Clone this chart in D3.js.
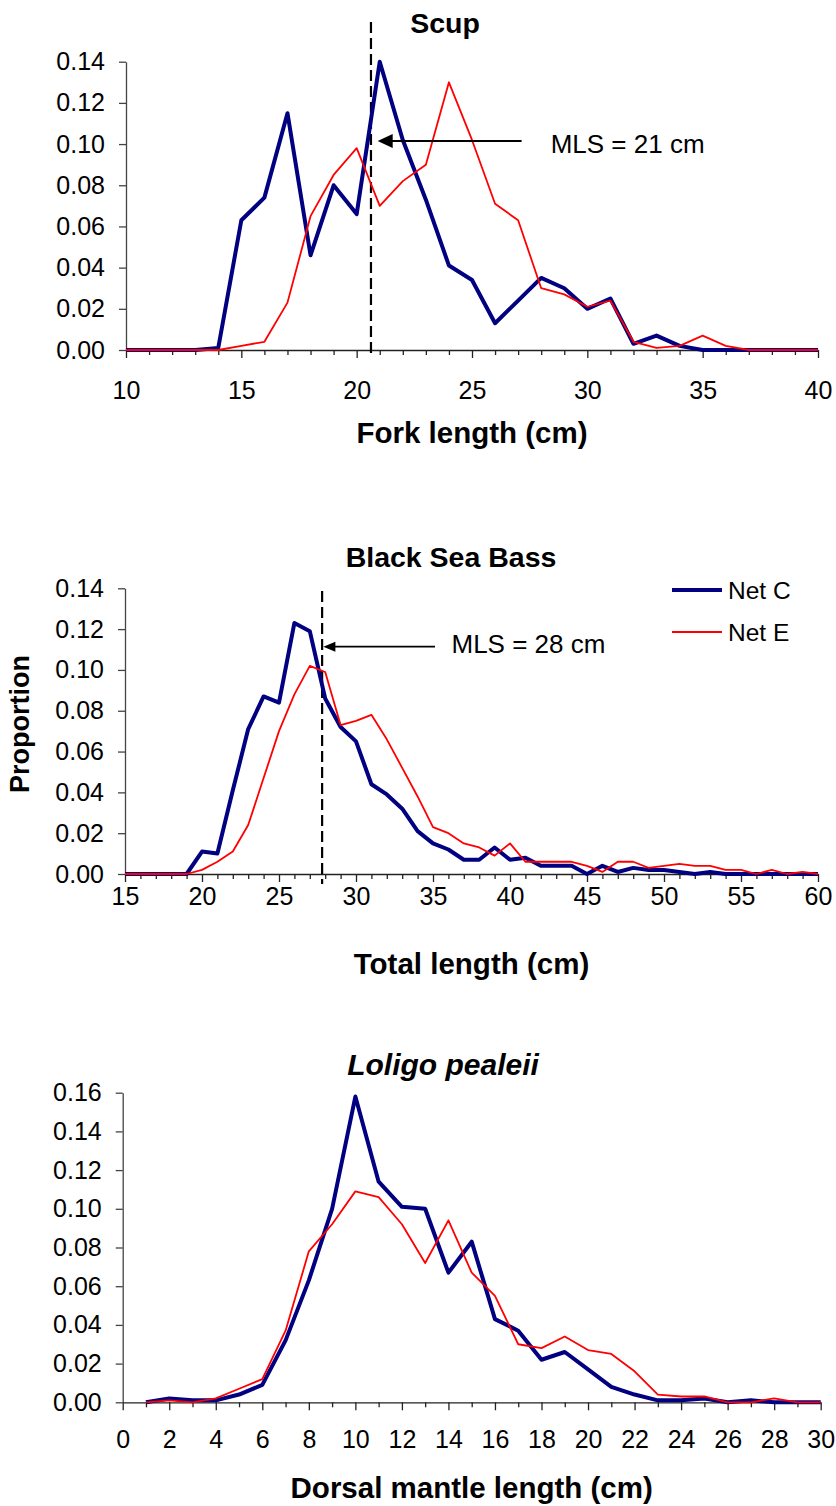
<!DOCTYPE html>
<html>
<head>
<meta charset="utf-8">
<script src="https://cdn.jsdelivr.net/npm/d3@7"></script>
<style>
  body { margin: 0; background: #fff; }
  svg { display: block; font-family: "Liberation Sans", Arial, sans-serif; }
</style>
</head>
<body>
<script>
// length classes (cm) and proportions
const scupLen = [10,11,12,13,14,15,16,17,18,19,20,21,22,23,24,25,26,27,28,29,30,31,32,33,34,35,36,37,38,39,40]
const scupNetC = [0,0,0,0,0.001,0.063,0.074,0.115,0.046,0.080,0.066,0.140,0.102,0.073,0.041,0.034,0.013,0.024,0.035,0.030,0.020,0.025,0.003,0.007,0.002,0,0,0,0,0,0]
const scupNetE = [0,0,0,0,0,0.002,0.004,0.023,0.065,0.085,0.098,0.070,0.082,0.090,0.130,0.102,0.071,0.063,0.030,0.027,0.021,0.024,0.004,0.001,0.002,0.007,0.002,0,0,0,0]

const bassLen = [15,16,17,18,19,20,21,22,23,24,25,26,27,28,29,30,31,32,33,34,35,36,37,38,39,40,41,42,43,44,45,46,47,48,49,50,51,52,53,54,55,56,57,58,59,60]
const bassNetC = [0,0,0,0,0,0.011,0.010,0.041,0.071,0.087,0.084,0.123,0.119,0.086,0.072,0.065,0.044,0.039,0.032,0.021,0.015,0.012,0.007,0.007,0.013,0.007,0.008,0.004,0.004,0.004,0,0.004,0.001,0.003,0.002,0.002,0.001,0,0.001,0,0,0,0,0,0,0]
const bassNetE = [0,0,0,0,0,0.002,0.006,0.011,0.024,0.047,0.070,0.088,0.102,0.099,0.073,0.075,0.078,0.066,0.052,0.038,0.023,0.020,0.015,0.013,0.009,0.015,0.006,0.006,0.006,0.006,0.004,0.001,0.006,0.006,0.003,0.004,0.005,0.004,0.004,0.002,0.002,0,0.002,0,0.001,0]

const loligoLen = [1,2,3,4,5,6,7,8,9,10,11,12,13,14,15,16,17,18,19,20,21,22,23,24,25,26,27,28,29,30]
const loligoNetC = [0,0.002,0.001,0.001,0.004,0.009,0.032,0.063,0.100,0.158,0.114,0.101,0.100,0.067,0.083,0.043,0.037,0.022,0.026,0.017,0.008,0.004,0.001,0.001,0.002,0,0.001,0,0,0]
const loligoNetE = [0,0.001,0,0.002,0.007,0.012,0.037,0.078,0.092,0.109,0.106,0.092,0.072,0.094,0.067,0.055,0.030,0.028,0.034,0.027,0.025,0.016,0.004,0.003,0.003,0,0,0.002,0,0]

const yTicks14 = [0,0.02,0.04,0.06,0.08,0.10,0.12,0.14]
const yTicks16 = [0,0.02,0.04,0.06,0.08,0.10,0.12,0.14,0.16]

const seriesNames = ["Net C", "Net E"]
const seriesColors = ["#000080", "#ff0000"]
const seriesWidths = [4, 1.8]

const width = 836
const height = 1506
const tickFont = 25

const svg = d3.select("body")
              .append("svg")
              .attr("width", width)
              .attr("height", height)

svg.append("rect").attr("width", width).attr("height", height).attr("fill", "white")

const panels = [
  {
    len: scupLen, netC: scupNetC, netE: scupNetE,
    xDomain: [10, 40], yDomain: [0, 0.14], yTicks: yTicks14, labelStep: 5,
    left: 126, right: 818, top: 61.7, bottom: 350, xBase: 49,
    title: "Scup", titleX: 445, titleY: 33, italic: false,
    xTitle: "Fork length (cm)", xTitleY: 443,
    mls: { x: 20.62, y0: 22, y1: 358, tail: 27.15, tip: 20.91, ay: 0.1015,
           label: "MLS = 21 cm", lx: 28.41, ly: 0.0957, head: 15, half: 7 }
  },
  {
    len: bassLen, netC: bassNetC, netE: bassNetE,
    xDomain: [15, 60], yDomain: [0, 0.14], yTicks: yTicks14, labelStep: 5,
    left: 125, right: 818, top: 588.3, bottom: 874, xBase: 31,
    title: "Black Sea Bass", titleX: 451, titleY: 566.7, italic: false,
    xTitle: "Total length (cm)", xTitleY: 974,
    yTitle: "Proportion", yTitleY: 724,
    legend: true,
    mls: { x: 27.8, y0: 591, y1: 884, tail: 35.13, tip: 27.88, ay: 0.1114,
           label: "MLS = 28 cm", lx: 36.2, ly: 0.1084, head: 12, half: 5 }
  },
  {
    len: loligoLen, netC: loligoNetC, netE: loligoNetE,
    xDomain: [0, 30], yDomain: [0, 0.16], yTicks: yTicks16, labelStep: 2,
    left: 122.7, right: 820.7, top: 1092.7, bottom: 1402.3, xBase: 46,
    title: "Loligo pealeii", titleX: 443, titleY: 1075, italic: true,
    xTitle: "Dorsal mantle length (cm)", xTitleY: 1498
  }
]

panels.forEach(p => drawPanel(p))

function drawPanel(p) {
  const x = d3.scaleLinear().domain(p.xDomain).range([p.left, p.right])
  const y = d3.scaleLinear().domain(p.yDomain).range([p.bottom, p.top])
  const g = svg.append("g")

  // y axis
  const yAxis = d3.axisLeft(y)
                  .tickValues(p.yTicks)
                  .tickFormat(d3.format(".2f"))
                  .tickSize(7)
                  .tickPadding(14)
                  .tickSizeOuter(0)
  const ya = g.append("g")
              .attr("transform", `translate(${p.left},0)`)
              .call(yAxis)
  ya.selectAll("text").attr("font-size", tickFont).attr("fill", "#000").attr("font-family", null)
  ya.select(".domain").attr("stroke", "#444").attr("stroke-width", 1.3)
  ya.selectAll(".tick line").attr("stroke", "#444").attr("stroke-width", 1.3)

  // x axis: a tick at every cm, longer ticks where labelled
  const xAxis = d3.axisBottom(x)
                  .tickValues(d3.range(p.xDomain[0], p.xDomain[1] + 1))
                  .tickFormat(d => d % p.labelStep === 0 ? d : "")
                  .tickSize(8)
                  .tickPadding(p.xBase - 8 - 0.71 * tickFont)
                  .tickSizeOuter(0)
  const xa = g.append("g")
              .attr("transform", `translate(0,${p.bottom})`)
              .call(xAxis)
  xa.selectAll("text").attr("font-size", tickFont).attr("fill", "#000").attr("font-family", null)
  xa.select(".domain").attr("stroke", "#222").attr("stroke-width", 1.3)
  xa.selectAll(".tick line")
    .attr("stroke", "#222")
    .attr("stroke-width", 1.3)
    .attr("y2", d => d % p.labelStep === 0 ? 8 : 5)

  // MLS marker
  if (p.mls) {
    const m = p.mls
    g.append("line")
     .attr("x1", x(m.x)).attr("x2", x(m.x))
     .attr("y1", m.y0).attr("y2", m.y1)
     .attr("stroke", "#000")
     .attr("stroke-width", 2.2)
     .attr("stroke-dasharray", "11,5")
  }

  // series
  const line = d3.line()
                 .x(d => x(d[0]))
                 .y(d => y(d[1]))
  const series = [p.netC, p.netE]
  series.forEach((vals, i) => {
    g.append("path")
     .datum(p.len.map((l, j) => [l, vals[j]]))
     .attr("fill", "none")
     .attr("stroke", seriesColors[i])
     .attr("stroke-width", seriesWidths[i])
     .attr("stroke-linejoin", "round")
     .attr("d", line)
  })

  if (p.mls) {
    const m = p.mls
    const ay = y(m.ay)
    const tip = x(m.tip)
    g.append("line")
     .attr("x1", x(m.tail)).attr("x2", tip + m.head - 1)
     .attr("y1", ay).attr("y2", ay)
     .attr("stroke", "#000")
     .attr("stroke-width", 1.8)
    g.append("path")
     .attr("d", `M${tip},${ay}L${tip + m.head},${ay - m.half}L${tip + m.head},${ay + m.half}Z`)
     .attr("fill", "#000")
    g.append("text")
     .attr("x", x(m.lx))
     .attr("y", y(m.ly))
     .attr("font-size", 26)
     .text(m.label)
  }

  // titles
  g.append("text")
   .attr("x", p.titleX)
   .attr("y", p.titleY)
   .attr("text-anchor", "middle")
   .attr("font-size", p.italic ? 30 : 28.5)
   .attr("font-weight", "bold")
   .attr("font-style", p.italic ? "italic" : null)
   .text(p.title)

  g.append("text")
   .attr("x", (p.left + p.right) / 2)
   .attr("y", p.xTitleY)
   .attr("text-anchor", "middle")
   .attr("font-size", 29.5)
   .attr("font-weight", "bold")
   .text(p.xTitle)

  if (p.yTitle) {
    g.append("text")
     .attr("transform", `translate(29,${p.yTitleY}) rotate(-90)`)
     .attr("text-anchor", "middle")
     .attr("font-size", 27)
     .attr("font-weight", "bold")
     .text(p.yTitle)
  }

  if (p.legend) {
    const lg = g.append("g").attr("transform", "translate(672,590)")
    seriesNames.forEach((name, i) => {
      lg.append("line")
        .attr("x1", 0).attr("x2", 50)
        .attr("y1", i * 42).attr("y2", i * 42)
        .attr("stroke", seriesColors[i])
        .attr("stroke-width", seriesWidths[i])
      lg.append("text")
        .attr("x", 56)
        .attr("y", i * 42 + 8.5)
        .attr("font-size", 24.5)
        .text(name)
    })
  }
}
</script>
</body>
</html>
